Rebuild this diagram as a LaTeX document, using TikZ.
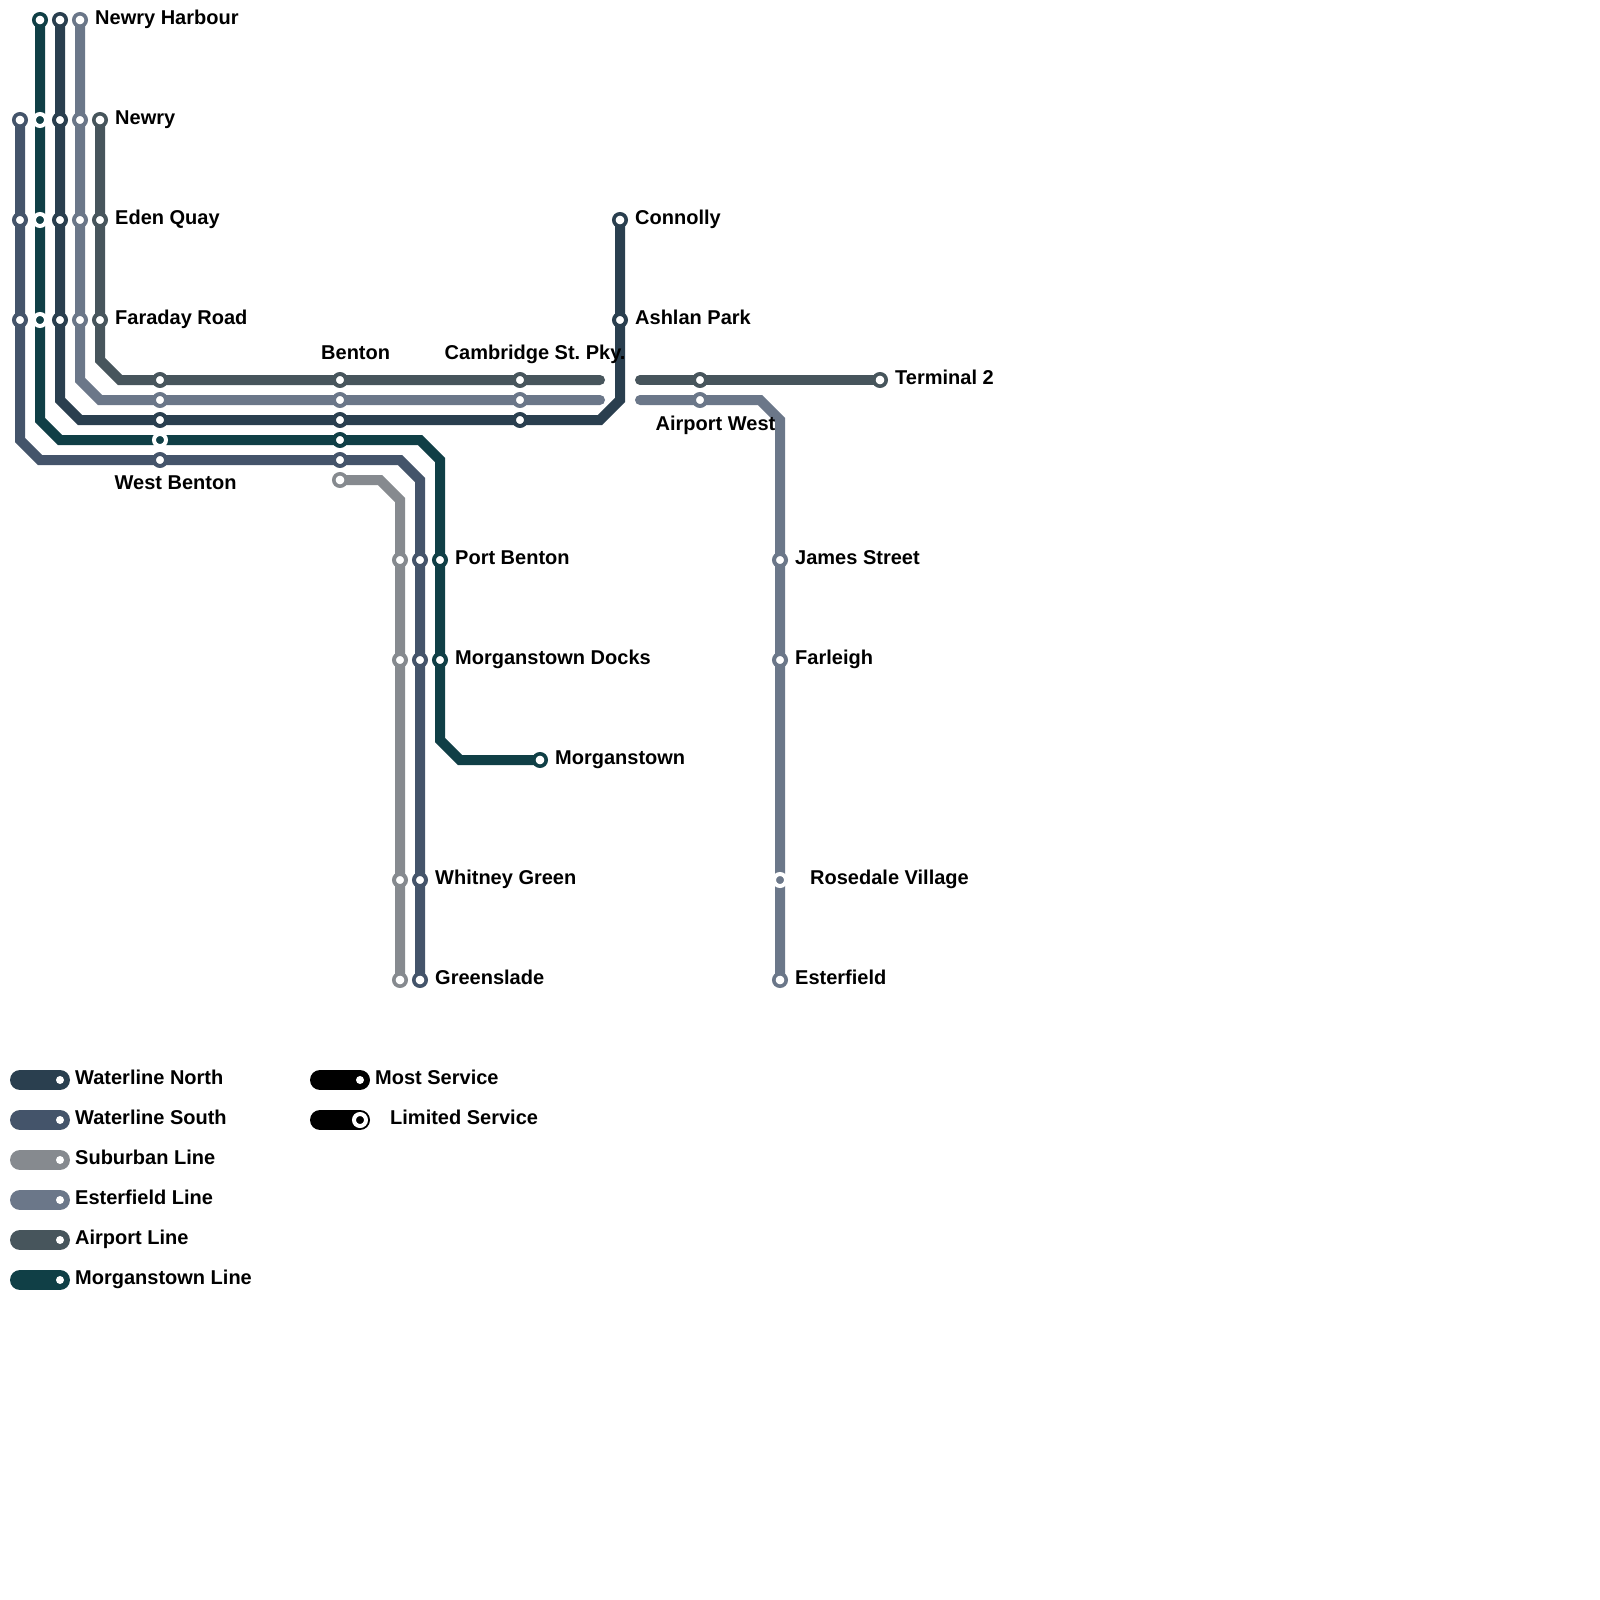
\documentclass[tikz,border=0pt]{standalone}
\usepackage{fontspec}
\setmainfont{Liberation Sans}
\frenchspacing
\definecolor{north}{HTML}{2A3F4F}
\definecolor{south}{HTML}{44546A}
\definecolor{suburb}{HTML}{868A8F}
\definecolor{esterf}{HTML}{6B7789}
\definecolor{airp}{HTML}{47555C}
\definecolor{morgan}{HTML}{103F46}
\tikzset{
  route/.style={line width=10pt,line cap=round,line join=miter},
  thru/.style={circle,draw=#1,fill=white,inner sep=0pt,minimum size=12pt,line width=4pt},
  term/.style={circle,draw=#1,fill=white,inner sep=0pt,minimum size=12.4pt,line width=3.6pt},
  lim/.style={circle,draw=white,fill=#1,inner sep=0pt,minimum size=12pt,line width=4pt},
  lab/.style={anchor=base west,inner sep=0pt,yshift=0.3pt,font=\fontsize{20pt}{24pt}\selectfont\bfseries,text=black},
  pill/.style={line width=20pt,line cap=round,draw=#1},
  dotw/.style={circle,fill=white,inner sep=0pt,minimum size=8pt},
}
\begin{document}
\begin{tikzpicture}[x=1pt,y=-1pt]
\useasboundingbox (0,0) rectangle (1600,1600);
\fill[white] (0,0) rectangle (1600,1600);
% route way-points
\foreach \n/\x/\y in {
 ma/40/20,mb/40/420,mc/60/440,md/420/440,me/440/460,mf/440/740,mg/460/760,mh/540/760,
 na/60/20,nb/60/400,nc/80/420,nd/600/420,ne/620/400,nf/620/220,
 ea/80/20,eb/80/380,ec/100/400,ed/600/400,ee/640/400,ef/760/400,eg/780/420,eh/780/980,
 aa/100/120,ab/100/360,ac/120/380,ad/600/380,ae/640/380,af/880/380,
 sa/20/120,sb/20/440,sc/40/460,sd/400/460,se/420/480,sf/420/980,
 ua/340/480,ub/380/480,uc/400/500,ud/400/980,
 k1a/20/1080,k1b/60/1080,k2a/20/1120,k2b/60/1120,k3a/20/1160,k3b/60/1160,
 k4a/20/1200,k4b/60/1200,k5a/20/1240,k5b/60/1240,k6a/20/1280,k6b/60/1280,
 k7a/320/1080,k7b/360/1080,k8a/320/1120,k8b/360/1120}
  {\coordinate (\n) at (\x,\y);}
% routes
\draw[route,draw=airp] (aa)--(ab)--(ac)--(ad);
\draw[route,draw=airp] (ae)--(af);
\draw[route,draw=esterf] (ea)--(eb)--(ec)--(ed);
\draw[route,draw=esterf] (ee)--(ef)--(eg)--(eh);
\draw[route,draw=north] (na)--(nb)--(nc)--(nd)--(ne)--(nf);
\draw[route,draw=morgan] (ma)--(mb)--(mc)--(md)--(me)--(mf)--(mg)--(mh);
\draw[route,draw=south] (sa)--(sb)--(sc)--(sd)--(se)--(sf);
\draw[route,draw=suburb] (ua)--(ub)--(uc)--(ud);
% stations
\node[term=morgan] (s1) at (40,20) {};
\node[term=north] (s2) at (60,20) {};
\node[term=esterf] (s3) at (80,20) {};
\foreach \y/\k in {120/a,220/b,320/c}{
  \node[lim=morgan] (m\k) at (40,\y) {};
  \node[thru=north] (n\k) at (60,\y) {};
  \node[thru=esterf] (e\k) at (80,\y) {};
}
\node[term=south] (s4) at (20,120) {};
\node[thru=south] (s5) at (20,220) {};
\node[thru=south] (s6) at (20,320) {};
\node[term=airp] (s7) at (100,120) {};
\node[thru=airp] (s8) at (100,220) {};
\node[thru=airp] (s9) at (100,320) {};
\foreach \x/\k in {160/w,340/b,520/c}{
  \node[thru=airp] (t\k1) at (\x,380) {};
  \node[thru=esterf] (t\k2) at (\x,400) {};
  \node[thru=north] (t\k3) at (\x,420) {};
}
\node[lim=morgan] (w4) at (160,440) {};
\node[thru=south] (w5) at (160,460) {};
\node[thru=morgan] (b4) at (340,440) {};
\node[thru=south] (b5) at (340,460) {};
\node[term=suburb] (b6) at (340,480) {};
\node[thru=airp] (aw1) at (700,380) {};
\node[thru=esterf] (aw2) at (700,400) {};
\node[term=airp] (t2) at (880,380) {};
\node[term=north] (co) at (620,220) {};
\node[thru=north] (as) at (620,320) {};
\foreach \y/\k in {560/p,660/d}{
  \node[thru=suburb] (\k1) at (400,\y) {};
  \node[thru=south] (\k2) at (420,\y) {};
  \node[thru=morgan] (\k3) at (440,\y) {};
}
\node[term=morgan] (mo) at (540,760) {};
\node[thru=suburb] (wg1) at (400,880) {};
\node[thru=south] (wg2) at (420,880) {};
\node[term=suburb] (gs1) at (400,980) {};
\node[term=south] (gs2) at (420,980) {};
\node[thru=esterf] (js) at (780,560) {};
\node[thru=esterf] (fa) at (780,660) {};
\node[lim=esterf] (rv) at (780,880) {};
\node[term=esterf] (ef9) at (780,980) {};
% labels
\node[lab] (l1) at (95,25) {Newry Harbour};
\node[lab] (l2) at (115,125) {Newry};
\node[lab] (l3) at (115,225) {Eden Quay};
\node[lab] (l4) at (115,325) {Faraday Road};
\node[lab] (l5) at (321,360) {Benton};
\node[lab] (l6) at (444.5,360) {Cambridge St. Pky.};
\node[lab] (l7) at (635,225) {Connolly};
\node[lab] (l8) at (635,325) {Ashlan Park};
\node[lab] (l9) at (895,385) {Terminal 2};
\node[lab] (l10) at (655.5,431) {Airport West};
\node[lab] (l11) at (114.5,490) {West Benton};
\node[lab] (l12) at (455,565) {Port Benton};
\node[lab] (l13) at (455,665) {Morganstown Docks};
\node[lab] (l14) at (555,765) {Morganstown};
\node[lab] (l15) at (435,885) {Whitney Green};
\node[lab] (l16) at (435,985) {Greenslade};
\node[lab] (l17) at (795,565) {James Street};
\node[lab] (l18) at (795,665) {Farleigh};
\node[lab] (l19) at (810,885) {Rosedale Village};
\node[lab] (l20) at (795,985) {Esterfield};
% legend
\draw[pill=north] (k1a)--(k1b);
\draw[pill=south] (k2a)--(k2b);
\draw[pill=suburb] (k3a)--(k3b);
\draw[pill=esterf] (k4a)--(k4b);
\draw[pill=airp] (k5a)--(k5b);
\draw[pill=morgan] (k6a)--(k6b);
\draw[pill=black] (k7a)--(k7b);
\draw[pill=black] (k8a)--(k8b);
\node[dotw] (d1) at (k1b) {};
\node[dotw] (d2) at (k2b) {};
\node[dotw] (d3) at (k3b) {};
\node[dotw] (d4) at (k4b) {};
\node[dotw] (d5) at (k5b) {};
\node[dotw] (d6) at (k6b) {};
\node[dotw] (d7) at (k7b) {};
\node[lim=black] (d8) at (k8b) {};
\node[lab] (k1) at (75,1085) {Waterline North};
\node[lab] (k2) at (75,1125) {Waterline South};
\node[lab] (k3) at (75,1165) {Suburban Line};
\node[lab] (k4) at (75,1205) {Esterfield Line};
\node[lab] (k5) at (75,1245) {Airport Line};
\node[lab] (k6) at (75,1285) {Morganstown Line};
\node[lab] (k7) at (375,1085) {Most Service};
\node[lab] (k8) at (390,1125) {Limited Service};
\end{tikzpicture}
\end{document}
